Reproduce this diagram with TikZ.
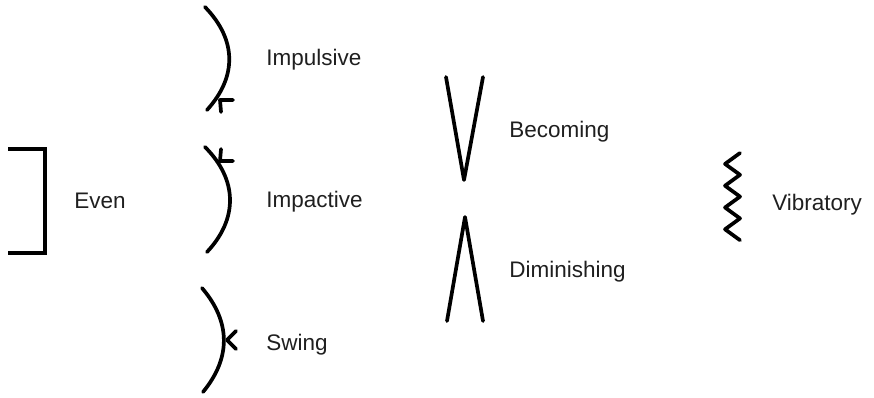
\documentclass[tikz,border=0pt]{standalone}
\usepackage{fontspec}
\setmainfont{Liberation Sans}
\usetikzlibrary{positioning}

\begin{document}
\begin{tikzpicture}[x=0.02cm,y=-0.02cm,
    sign/.style={line width=2.1pt,line cap=round,line join=round},
    lbl/.style={anchor=base west,inner sep=0pt,text=black!88,font=\fontsize{12.8}{15}\selectfont}]
  \useasboundingbox (0,0) rectangle (874,397);
  % even
  \draw[sign,line cap=butt,line join=miter] (8,149) -- (45,149) -- (45,253) -- (8,253);
  \node[lbl] (even) at (74,208) {Even};
  % impulsive
  \draw[sign] (205,7) .. controls (237,40) and (237,77) .. (207,110);
  \draw[sign] (233,100) -- (220,100) -- (221,112);
  \node[lbl] (impulsive) at (266,65) {Impulsive};
  % impactive
  \draw[sign] (205,147) .. controls (238,180) and (238,219) .. (207,252);
  \draw[sign] (233,161) -- (220,161) -- (221,149);
  \node[lbl] (impactive) at (266,207) {Impactive};
  % swing
  \draw[sign] (202,288) .. controls (231,322) and (231,358) .. (203,392);
  \draw[sign] (236,331) -- (227,340) -- (236,349);
  \node[lbl] (swing) at (266,350) {Swing};
  % becoming / diminishing
  \draw[sign] (446,77) -- (464,180) -- (483,77);
  \node[lbl] (becoming) at (509,137) {Becoming};
  \draw[sign] (447,321) -- (465,217) -- (483,321);
  \node[lbl] (diminishing) at (509,277) {Diminishing};
  % vibratory
  \draw[sign] (740,153) foreach \i in {1,...,8} { -- ({740-15*mod(\i,2)},{153+10.9*\i}) };
  \node[lbl] (vibratory) at (772,210) {Vibratory};
\end{tikzpicture}
\end{document}
